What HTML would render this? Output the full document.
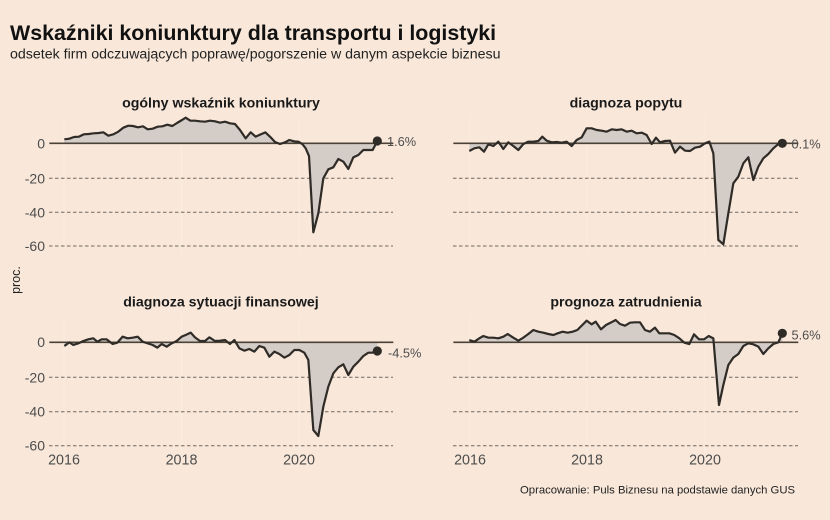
<!DOCTYPE html>
<html>
<head>
<meta charset="utf-8">
<style>
html,body{margin:0;padding:0;background:#F9E8DA;}
svg{display:block;}
text{font-family:"Liberation Sans",Arial,sans-serif;}
</style>
</head>
<body>
<svg width="830" height="520" viewBox="0 0 830 520" xmlns="http://www.w3.org/2000/svg">
<rect x="0" y="0" width="830" height="520" fill="#F9E8DA"/>

<!-- Titles -->
<text x="10" y="40" font-size="21.4" font-weight="bold" fill="#111">Wskaźniki koniunktury dla transportu i logistyki</text>
<text x="10" y="58.3" font-size="14.2" fill="#222">odsetek firm odczuwających poprawę/pogorszenie w danym aspekcie biznesu</text>

<!-- Y axis label -->
<text transform="translate(20,280) rotate(-90)" text-anchor="middle" font-size="12.5" fill="#222">proc.</text>

<!-- Footer -->
<text x="520" y="493.3" font-size="11.3" fill="#222">Opracowanie: Puls Biznesu na podstawie danych GUS</text>

<!-- Vertical faint gridlines -->
<g stroke="#FAEDE2" stroke-width="1">
  <line x1="64" y1="116" x2="64" y2="253"/>
  <line x1="181.5" y1="116" x2="181.5" y2="253"/>
  <line x1="299" y1="116" x2="299" y2="253"/>
  <line x1="470" y1="116" x2="470" y2="253"/>
  <line x1="587" y1="116" x2="587" y2="253"/>
  <line x1="705" y1="116" x2="705" y2="253"/>
  <line x1="64" y1="315" x2="64" y2="452"/>
  <line x1="181.5" y1="315" x2="181.5" y2="452"/>
  <line x1="299" y1="315" x2="299" y2="452"/>
  <line x1="470" y1="315" x2="470" y2="452"/>
  <line x1="587" y1="315" x2="587" y2="452"/>
  <line x1="705" y1="315" x2="705" y2="452"/>
</g>

<!-- Dashed horizontal gridlines -->
<g stroke="#6f6760" stroke-width="1" stroke-dasharray="3.5 2.5">
  <line x1="49" y1="178.3" x2="393" y2="178.3"/>
  <line x1="49" y1="212.3" x2="393" y2="212.3"/>
  <line x1="49" y1="246" x2="393" y2="246"/>
  <line x1="453" y1="178.3" x2="798" y2="178.3"/>
  <line x1="453" y1="212.3" x2="798" y2="212.3"/>
  <line x1="453" y1="246" x2="798" y2="246"/>
  <line x1="49" y1="377.3" x2="393" y2="377.3"/>
  <line x1="49" y1="411.7" x2="393" y2="411.7"/>
  <line x1="49" y1="445.7" x2="393" y2="445.7"/>
  <line x1="453" y1="377.3" x2="798" y2="377.3"/>
  <line x1="453" y1="411.7" x2="798" y2="411.7"/>
  <line x1="453" y1="445.7" x2="798" y2="445.7"/>
</g>

<!-- Panel titles -->
<g font-size="14.2" font-weight="bold" fill="#1a1a1a" text-anchor="middle">
  <text x="221" y="107.3">ogólny wskaźnik koniunktury</text>
  <text x="626" y="107.3">diagnoza popytu</text>
  <text x="221" y="306.7">diagnoza sytuacji finansowej</text>
  <text x="626" y="306.3">prognoza zatrudnienia</text>
</g>

<!-- Y tick labels -->
<g font-size="14" fill="#4d4d4d" text-anchor="end">
  <text x="45" y="148.5">0</text>
  <text x="45" y="183.3">-20</text>
  <text x="45" y="217.3">-40</text>
  <text x="45" y="251">-60</text>
  <text x="45" y="347">0</text>
  <text x="45" y="382.3">-20</text>
  <text x="45" y="416.7">-40</text>
  <text x="45" y="450.7">-60</text>
</g>

<!-- X tick labels -->
<g font-size="14.3" fill="#4d4d4d" text-anchor="middle">
  <text x="64" y="464.5">2016</text>
  <text x="181.5" y="464.5">2018</text>
  <text x="299" y="464.5">2020</text>
  <text x="470" y="464.5">2016</text>
  <text x="587" y="464.5">2018</text>
  <text x="705" y="464.5">2020</text>
</g>

<!-- Top-left panel -->
<g transform="translate(0,80) scale(0.333333)">
  <polygon fill="#D4CCC6" points="193,190 193,178 208,176 222,171 237,170 251,163 266,162 281,160 296,159 310,157 325,167 340,163 355,155 370,143 385,137 399,138 414,142 429,139 443,148 458,146 473,140 487,139 502,134 517,138 531,129 546,120 557,113 571,122 585,122 600,124 615,125 630,122 645,124 660,128 675,125 690,130 705,132 720,150 737,175 752,157 767,170 782,163 796,157 810,170 825,186 840,192 855,187 868,180 882,184 895,185 907,192 917,205 927,228 940,457 955,400 970,295 985,268 1000,262 1015,237 1030,245 1045,267 1060,232 1075,225 1090,210 1104,210 1118,210 1132,183 1132,190"/>
  <line x1="148" y1="190" x2="1180" y2="190" stroke="#4a4137" stroke-width="1.6" vector-effect="non-scaling-stroke"/>
  <polyline fill="none" stroke="#2f2b27" stroke-width="2.2" stroke-linejoin="round" vector-effect="non-scaling-stroke" points="193,178 208,176 222,171 237,170 251,163 266,162 281,160 296,159 310,157 325,167 340,163 355,155 370,143 385,137 399,138 414,142 429,139 443,148 458,146 473,140 487,139 502,134 517,138 531,129 546,120 557,113 571,122 585,122 600,124 615,125 630,122 645,124 660,128 675,125 690,130 705,132 720,150 737,175 752,157 767,170 782,163 796,157 810,170 825,186 840,192 855,187 868,180 882,184 895,185 907,192 917,205 927,228 940,457 955,400 970,295 985,268 1000,262 1015,237 1030,245 1045,267 1060,232 1075,225 1090,210 1104,210 1118,210 1132,183"/>
</g>
<circle cx="377.3" cy="141" r="4.6" fill="#2f2b27"/>
<text x="387" y="146" font-size="12.8" fill="#4d4d4d">1.6%</text>

<!-- Top-right panel -->
<g transform="translate(420,80) scale(0.333333)">
  <polygon fill="#D4CCC6" points="148,190 148,213 163,205 178,202 192,215 205,193 220,198 235,185 250,207 265,187 280,198 295,210 310,192 325,185 340,185 355,183 367,170 380,182 395,187 410,186 425,188 440,185 455,198 470,180 485,172 500,145 515,145 530,150 545,152 560,155 575,148 590,150 605,148 620,155 635,152 650,160 665,158 680,165 695,192 708,173 720,187 735,183 750,182 765,218 780,200 795,212 810,213 825,203 840,200 855,190 868,185 880,220 895,480 910,493 925,400 940,310 955,290 970,250 985,232 1000,300 1015,260 1030,235 1045,222 1060,205 1075,192 1087,190"/>
  <line x1="100" y1="190" x2="1135" y2="190" stroke="#4a4137" stroke-width="1.6" vector-effect="non-scaling-stroke"/>
  <polyline fill="none" stroke="#2f2b27" stroke-width="2.2" stroke-linejoin="round" vector-effect="non-scaling-stroke" points="148,213 163,205 178,202 192,215 205,193 220,198 235,185 250,207 265,187 280,198 295,210 310,192 325,185 340,185 355,183 367,170 380,182 395,187 410,186 425,188 440,185 455,198 470,180 485,172 500,145 515,145 530,150 545,152 560,155 575,148 590,150 605,148 620,155 635,152 650,160 665,158 680,165 695,192 708,173 720,187 735,183 750,182 765,218 780,200 795,212 810,213 825,203 840,200 855,190 868,185 880,220 895,480 910,493 925,400 940,310 955,290 970,250 985,232 1000,300 1015,260 1030,235 1045,222 1060,205 1075,192 1087,190"/>
</g>
<circle cx="782.3" cy="143.3" r="4.6" fill="#2f2b27"/>
<text x="791.5" y="148.3" font-size="12.8" fill="#4d4d4d">0.1%</text>

<!-- Bottom-left panel -->
<g transform="translate(0,280) scale(0.333333)">
  <polygon fill="#D4CCC6" points="193,187 193,198 208,187 220,195 235,190 250,183 265,178 280,175 292,185 305,178 320,178 338,192 352,188 368,170 383,175 398,173 413,170 428,185 443,190 458,195 472,203 485,192 500,200 515,190 530,183 545,170 557,165 572,158 585,172 600,183 615,183 628,172 645,183 660,182 675,180 690,192 703,180 718,205 733,212 748,207 763,215 778,198 793,203 808,230 823,215 838,222 853,233 868,225 883,210 898,210 913,218 925,240 940,450 955,468 970,380 985,320 1000,280 1015,262 1030,253 1045,285 1060,260 1075,245 1090,228 1105,218 1118,218 1132,213 1132,187"/>
  <line x1="148" y1="187" x2="1180" y2="187" stroke="#4a4137" stroke-width="1.6" vector-effect="non-scaling-stroke"/>
  <polyline fill="none" stroke="#2f2b27" stroke-width="2.2" stroke-linejoin="round" vector-effect="non-scaling-stroke" points="193,198 208,187 220,195 235,190 250,183 265,178 280,175 292,185 305,178 320,178 338,192 352,188 368,170 383,175 398,173 413,170 428,185 443,190 458,195 472,203 485,192 500,200 515,190 530,183 545,170 557,165 572,158 585,172 600,183 615,183 628,172 645,183 660,182 675,180 690,192 703,180 718,205 733,212 748,207 763,215 778,198 793,203 808,230 823,215 838,222 853,233 868,225 883,210 898,210 913,218 925,240 940,450 955,468 970,380 985,320 1000,280 1015,262 1030,253 1045,285 1060,260 1075,245 1090,228 1105,218 1118,218 1132,213"/>
</g>
<circle cx="377.3" cy="351" r="4.6" fill="#2f2b27"/>
<text x="388" y="357.5" font-size="12.8" fill="#4d4d4d">-4.5%</text>

<!-- Bottom-right panel -->
<g transform="translate(420,280) scale(0.333333)">
  <polygon fill="#D4CCC6" points="148,187 148,180 163,185 178,175 190,168 205,173 220,173 235,175 250,170 263,162 280,173 295,182 310,173 325,162 340,150 355,155 370,158 385,162 400,165 413,160 428,155 443,158 458,155 472,150 487,135 500,122 515,133 527,125 543,148 558,135 572,128 587,120 600,132 615,137 630,128 645,127 660,127 675,150 690,155 705,143 718,160 733,160 748,160 763,165 778,175 793,188 808,192 822,163 837,178 852,178 866,168 880,175 897,375 910,315 925,255 940,233 955,222 970,198 985,190 1000,193 1015,200 1030,222 1045,205 1060,192 1075,187 1087,160 1087,187"/>
  <line x1="100" y1="187" x2="1135" y2="187" stroke="#4a4137" stroke-width="1.6" vector-effect="non-scaling-stroke"/>
  <polyline fill="none" stroke="#2f2b27" stroke-width="2.2" stroke-linejoin="round" vector-effect="non-scaling-stroke" points="148,180 163,185 178,175 190,168 205,173 220,173 235,175 250,170 263,162 280,173 295,182 310,173 325,162 340,150 355,155 370,158 385,162 400,165 413,160 428,155 443,158 458,155 472,150 487,135 500,122 515,133 527,125 543,148 558,135 572,128 587,120 600,132 615,137 630,128 645,127 660,127 675,150 690,155 705,143 718,160 733,160 748,160 763,165 778,175 793,188 808,192 822,163 837,178 852,178 866,168 880,175 897,375 910,315 925,255 940,233 955,222 970,198 985,190 1000,193 1015,200 1030,222 1045,205 1060,192 1075,187 1087,160"/>
</g>
<circle cx="782.3" cy="333.3" r="4.6" fill="#2f2b27"/>
<text x="791.5" y="339.5" font-size="12.8" fill="#4d4d4d">5.6%</text>

</svg>
</body>
</html>
